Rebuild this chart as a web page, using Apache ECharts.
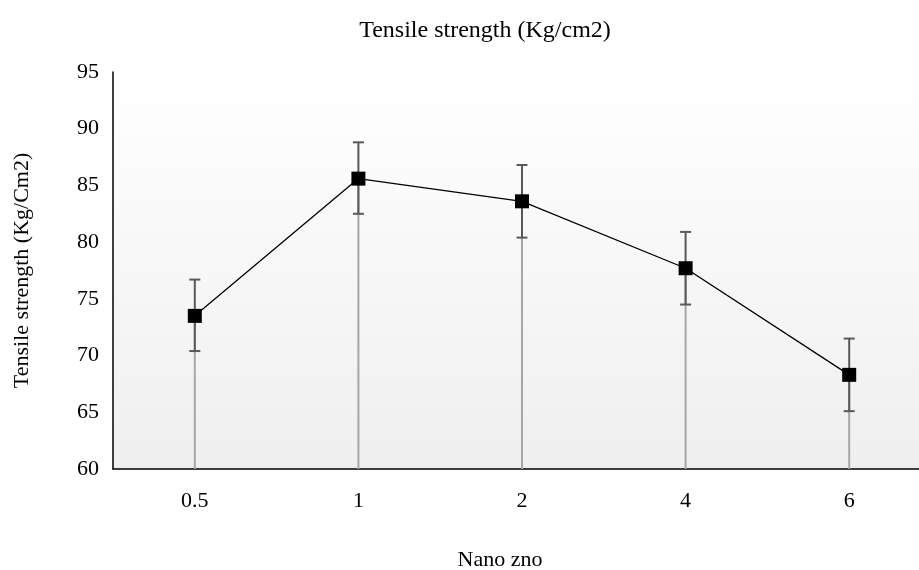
<!DOCTYPE html>
<html>
<head>
<meta charset="utf-8">
<script src="https://cdn.jsdelivr.net/npm/echarts@6/dist/echarts.min.js"></script>
<style>
  html, body { margin: 0; padding: 0; background: #fff; }
  #chart { width: 919px; height: 570px; }
</style>
</head>
<body>
<div id="chart"></div>
<script>
    // doses of nano ZnO
    const categories = ['0.5', '1', '2', '4', '6'];
    // mean tensile strength
    const strength = [73.5, 85.6, 83.6, 77.7, 68.3];
    // error bar ends
    const upperErr = [76.7, 88.8, 86.8, 80.9, 71.5];
    const lowerErr = [70.4, 82.5, 80.4, 74.5, 65.1];
    const yTicks = { min: 60, max: 95, step: 5 };

    const font = '"Liberation Serif", "Times New Roman", serif';
    const myChart = echarts.init(document.getElementById('chart'));

    // drop lines from each point down to the axis
    function renderDrop(params, api) {
        const top = api.coord([api.value(0), api.value(1)]);
        const bottom = api.coord([api.value(0), yTicks.min]);
        return {
            type: 'line',
            shape: { x1: top[0], y1: top[1], x2: bottom[0], y2: bottom[1] },
            style: { stroke: '#a6a6a6', lineWidth: 2 }
        };
    }

    // error bars with caps
    function renderErr(params, api) {
        const hi = api.coord([api.value(0), api.value(1)]);
        const lo = api.coord([api.value(0), api.value(2)]);
        const w = 5.5;
        const st = { stroke: '#595959', lineWidth: 2 };
        return {
            type: 'group',
            children: [
                { type: 'line', shape: { x1: hi[0], y1: hi[1], x2: lo[0], y2: lo[1] }, style: st },
                { type: 'line', shape: { x1: hi[0] - w, y1: hi[1], x2: hi[0] + w, y2: hi[1] }, style: st },
                { type: 'line', shape: { x1: lo[0] - w, y1: lo[1], x2: lo[0] + w, y2: lo[1] }, style: st }
            ]
        };
    }

    const option = {
        backgroundColor: '#fff',
        animation: false,
        title: {
            text: 'Tensile strength (Kg/cm2)',
            left: 480,
            textAlign: 'center',
            top: 14,
            textStyle: { fontFamily: font, fontSize: 24, fontWeight: 'normal', color: '#000' }
        },
        grid: {
            left: 113,
            top: 72,
            width: 818,
            height: 397,
            outerBoundsMode: 'none',
            containLabel: false,
            show: true,
            borderWidth: 0,
            backgroundColor: {
                type: 'linear', x: 0, y: 0, x2: 0, y2: 1,
                colorStops: [
                    { offset: 0, color: '#ffffff' },
                    { offset: 1, color: '#efefef' }
                ]
            }
        },
        xAxis: {
            type: 'category',
            data: categories,
            boundaryGap: true,
            name: 'Nano zno',
            nameLocation: 'middle',
            nameGap: 80,
            nameTextStyle: { fontFamily: font, fontSize: 22, color: '#000', padding: [0, 0, 0, -44] },
            axisLine: { lineStyle: { color: '#000', width: 1.5 } },
            axisTick: { show: false },
            axisLabel: { fontFamily: font, fontSize: 22, color: '#000', margin: 21 }
        },
        yAxis: {
            type: 'value',
            min: yTicks.min,
            max: yTicks.max,
            interval: yTicks.step,
            name: 'Tensile strength (Kg/Cm2)',
            nameLocation: 'middle',
            nameGap: 80,
            nameTextStyle: { fontFamily: font, fontSize: 22, color: '#000' },
            axisLine: { show: true, lineStyle: { color: '#000', width: 1.5 } },
            axisTick: { show: false },
            splitLine: { show: false },
            axisLabel: { fontFamily: font, fontSize: 22, color: '#000', margin: 14 }
        },
        series: [
            {
                type: 'custom',
                renderItem: renderDrop,
                data: strength.map((v, i) => [i, v]),
                z: 1
            },
            {
                type: 'custom',
                renderItem: renderErr,
                data: strength.map((v, i) => [i, upperErr[i], lowerErr[i]]),
                z: 2
            },
            {
                type: 'line',
                data: strength,
                symbol: 'rect',
                symbolSize: 14,
                itemStyle: { color: '#000' },
                lineStyle: { color: '#000', width: 1.3 },
                z: 3
            }
        ]
    };

    myChart.setOption(option);
</script>
</body>
</html>
